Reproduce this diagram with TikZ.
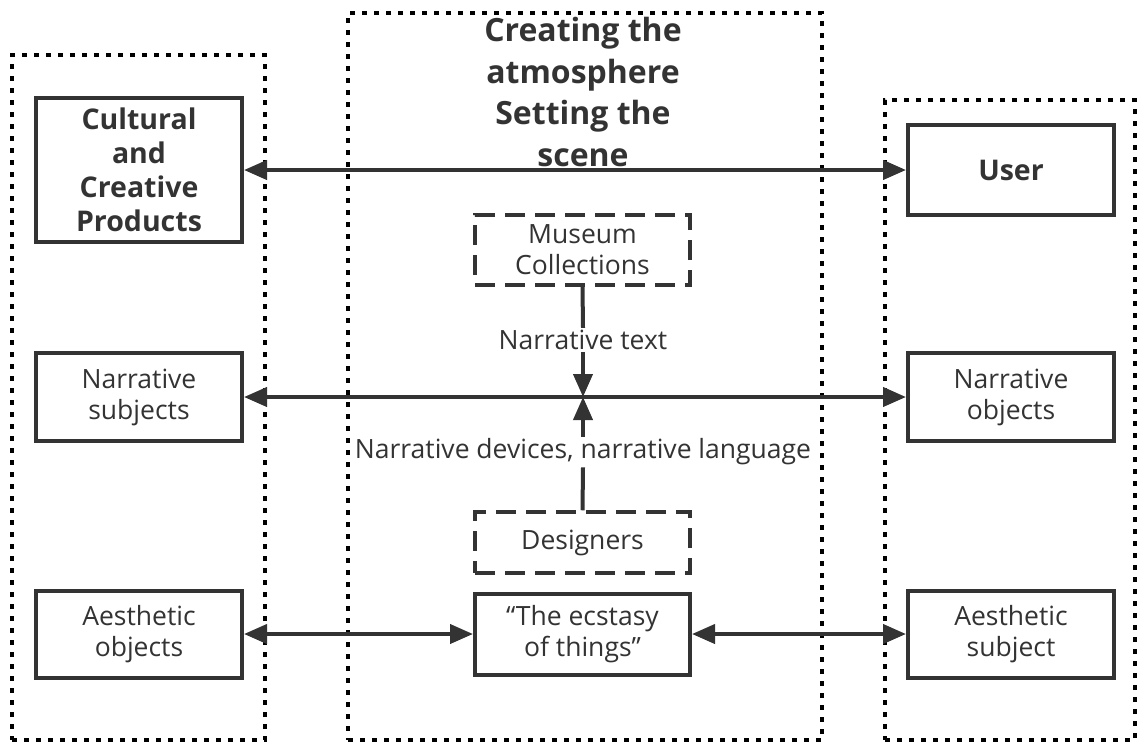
\documentclass[tikz,border=0pt]{standalone}
\usepackage{fontspec}
\setmainfont{Open Sans}
\usetikzlibrary{arrows.meta}
\definecolor{ink}{HTML}{333333}
\tikzset{
  region/.style={draw=black, line width=4pt, dash pattern=on 5pt off 7pt, inner sep=0pt},
  solidbox/.style={draw=ink, line width=4pt, text=ink, align=center, inner sep=0pt},
  dashbox/.style={draw=ink, line width=3.5pt, dash pattern=on 20pt off 10pt, text=ink, align=center, inner sep=0pt},
  boldtxt/.style={font=\fontsize{28.5}{34}\selectfont\bfseries},
  normtxt/.style={font=\fontsize{26.5}{31}\selectfont},
  lbl/.style={text=ink, font=\fontsize{26.5}{31}\selectfont, inner sep=2pt},
  link/.style={draw=ink, line width=4pt},
  biarrow/.style={link, {Triangle[length=23pt,width=19pt]}-{Triangle[length=23pt,width=19pt]}},
  onearrow/.style={link, -{Triangle[length=23pt,width=19pt]}},
}
\begin{document}
\begin{tikzpicture}[x=1pt,y=-1pt]
\useasboundingbox (0,0) rectangle (1137,742);
% regions
\node[region, minimum width=253pt, minimum height=685pt] (leftreg) at (138.5,397.5) {};
\node[region, minimum width=474pt, minimum height=727pt] (midreg) at (585,376.5) {};
\node[region, minimum width=250pt, minimum height=640pt] (rightreg) at (1010,420) {};
% title
\node[text=ink, font=\fontsize{32}{41.5}\selectfont\bfseries, align=center] (title) at (583,92) {Creating the\\atmosphere\\Setting the\\scene};
% left column
\node[solidbox, boldtxt, minimum width=206pt, minimum height=144pt] (cult) at (139,170) {Cultural\\and\\Creative\\Products};
\node[solidbox, normtxt, minimum width=206pt, minimum height=88pt] (nsub) at (139,397) {Narrative\\subjects};
\node[solidbox, normtxt, minimum width=206pt, minimum height=87pt] (aobj) at (139,634) {Aesthetic\\objects};
% right column
\node[solidbox, boldtxt, minimum width=206pt, minimum height=90pt] (user) at (1011,170) {User};
\node[solidbox, normtxt, minimum width=206pt, minimum height=88pt] (nobj) at (1011,397) {Narrative\\objects};
\node[solidbox, normtxt, minimum width=206pt, minimum height=87pt] (asub) at (1011,634) {Aesthetic\\subject};
% middle column
\node[dashbox, normtxt, minimum width=215pt, minimum height=70pt] (museum) at (582.5,250) {Museum\\Collections};
\node[dashbox, normtxt, minimum width=215pt, minimum height=61pt] (design) at (582.5,542.5) {Designers};
\node[solidbox, normtxt, minimum width=215pt, minimum height=81pt] (ecstasy) at (582.5,634) {\textquotedblleft The ecstasy\\of things\textquotedblright};
\node[lbl] (ntext) at (583,340) {Narrative text};
\node[lbl] (ndev) at (583,452) {Narrative devices, narrative language};
\coordinate (meet) at (583,397);
% connectors
\draw[biarrow] (cult.east) -- (user.west);
\draw[biarrow] (nsub.east) -- (nobj.west);
\draw[link] (museum.south) -- (ntext.north);
\draw[onearrow] (ntext.south) -- (meet);
\draw[link] (design.north) -- (ndev.south);
\draw[onearrow] (ndev.north) -- (meet);
\draw[biarrow] (aobj.east) -- (ecstasy.west);
\draw[biarrow] (ecstasy.east) -- (asub.west);
\end{tikzpicture}
\end{document}
